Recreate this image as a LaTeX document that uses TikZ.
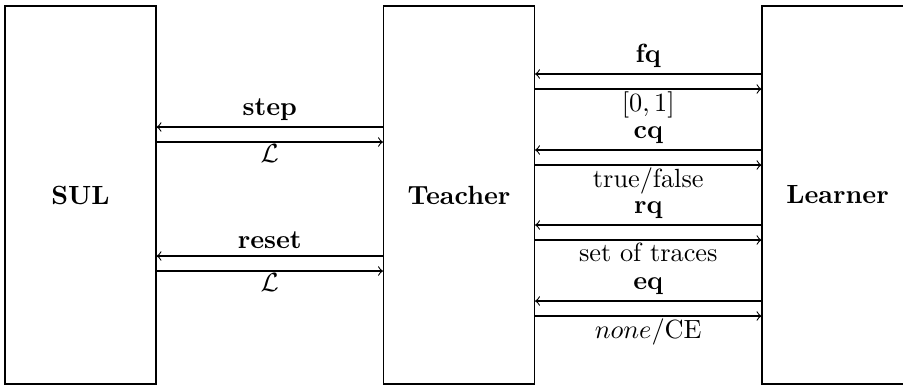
\documentclass[tikz,border=0pt]{standalone}
\usepackage{amsmath,amssymb}
\newlength{\pxu}
\setlength{\pxu}{0.38pt}
\begin{document}
\begin{tikzpicture}[x=\pxu,y=-\pxu,
  blk/.style={draw,line width=0.42pt,inner sep=0pt,font=\bfseries},
  arr/.style={line width=0.42pt},
  toplbl/.style={above,font=\bfseries,inner sep=2.4pt},
  botlbl/.style={below,inner sep=0.8pt}]
\useasboundingbox (0,0) rectangle (903,385);
\node[blk,minimum width=151\pxu,minimum height=378\pxu] (sul) at (80.5,195) {SUL};
\node[blk,minimum width=151\pxu,minimum height=378\pxu] (teach) at (459,195) {Teacher};
\node[blk,minimum width=151\pxu,minimum height=378\pxu] (learn) at (837.5,195) {Learner};
% SUL <-> Teacher
\foreach \ya/\yb/\top/\bot in {127/142/step/$\mathcal{L}$, 256/271/reset/$\mathcal{L}$}{
  \draw[arr,<-] (sul.east |- 0,\ya) -- node[toplbl]{\top} (teach.west |- 0,\ya);
  \draw[arr,->] (sul.east |- 0,\yb) -- node[botlbl]{\bot} (teach.west |- 0,\yb);
}
% Teacher <-> Learner
\foreach \ya/\yb/\top/\bot in {74/89/fq/{$[0,1]$}, 150/165/cq/{true/false}, 225/240/rq/{set of traces}, 301/316/eq/{$none$/CE}}{
  \draw[arr,<-] (teach.east |- 0,\ya) -- node[toplbl]{\top} (learn.west |- 0,\ya);
  \draw[arr,->] (teach.east |- 0,\yb) -- node[botlbl]{\bot} (learn.west |- 0,\yb);
}
\end{tikzpicture}
\end{document}
